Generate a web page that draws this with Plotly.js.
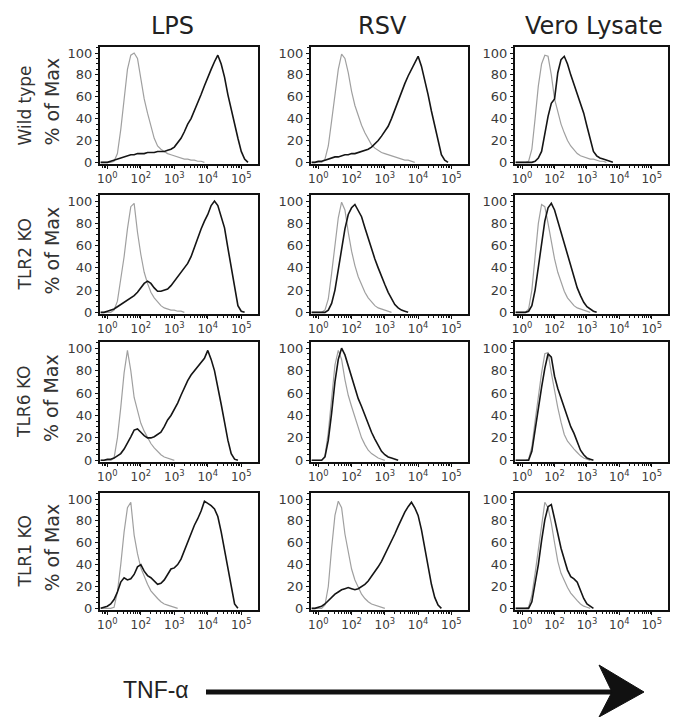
<!DOCTYPE html>
<html><head><meta charset="utf-8">
<script src="https://cdn.plot.ly/plotly-3.0.1.min.js"></script>
<style>html,body{margin:0;padding:0;background:#fff}#chart{width:673px;height:717px}</style>
</head><body><div id="chart"></div>
<script>
// ---- data ----
const BINS = [-0.2,-0.1,0,0.1,0.2,0.3,0.4,0.5,0.6,0.7,0.8,0.9,1,1.1,1.2,1.3,1.4,1.5,1.6,1.7,1.8,1.9,2,2.1,2.2,2.3,2.4,2.5,2.6,2.7,2.8,2.9,3,3.1,3.2,3.3,3.4,3.5,3.6,3.7,3.8,3.9,4,4.1,4.2,4.3,4.4,4.5];
const COLUMNS = ['LPS','RSV','Vero Lysate'];
const ROWS = ['Wild type','TLR2 KO','TLR6 KO','TLR1 KO'];
const Y_LABEL = '% of Max';
const X_LABEL = 'TNF-\u03b1';
const TICK_POS = [0,1,2,3,4];
const TICK_TEXT = ['10<sup>0</sup>','10<sup>2</sup>','10<sup>3</sup>','10<sup>4</sup>','10<sup>5</sup>'];
const Y_TICKS = [0,20,40,60,80,100];

// grey = control, black = stimulated
const wt_lps_ctrl   = [0,0,0,0,1,8,30,60,85,98,100,95,75,58,45,33,22,15,12,10,8,7,6,5,4,3,3,2,2,1,1,0];
const wt_lps_stim   = [0,0,0,1,2,3,4,5,6,7,7,8,8,8,9,9,9,10,10,10,11,12,14,18,22,28,35,40,47,55,62,70,78,85,92,98,90,78,62,48,35,22,10,3,0];
const wt_rsv_ctrl   = [0,0,0,0,3,15,38,62,85,99,95,82,65,52,42,34,27,21,16,13,11,9,8,7,6,5,4,3,2,2,1,0];
const wt_rsv_stim   = [0,0,1,1,2,3,4,5,5,6,7,7,8,8,9,10,11,12,14,17,20,24,28,33,40,48,57,64,72,79,85,92,97,88,76,62,47,33,18,7,2,0];
const wt_vero_ctrl  = [0,0,0,0,1,12,40,70,90,98,97,80,58,45,35,27,20,15,11,8,6,5,4,3,3,2,1,1,0];
const wt_vero_stim  = [0,0,0,0,0,0,1,4,10,27,42,54,58,82,94,97,90,80,71,63,55,45,33,20,10,6,4,3,2,1,0];

const tlr2_lps_ctrl  = [0,0,0,0,2,10,30,50,75,95,98,72,52,36,26,18,13,9,6,4,3,2,2,1,1,0];
const tlr2_lps_stim  = [0,0,1,2,3,5,7,9,11,13,15,18,22,26,28,26,22,19,19,20,21,24,28,32,35,40,44,50,59,67,75,82,88,96,100,96,86,76,58,40,22,6,1,0];
const tlr2_rsv_ctrl  = [0,0,0,0,2,12,35,62,85,99,92,72,55,42,32,25,18,13,9,6,4,3,2,1,0];
const tlr2_rsv_stim  = [0,0,0,0,0,2,8,20,38,58,75,88,94,97,92,86,76,66,57,48,40,32,25,18,12,7,4,2,1,0];
const tlr2_vero_ctrl = [0,0,0,0,3,20,50,80,97,95,80,62,48,36,27,19,13,9,6,4,3,2,1,0];
const tlr2_vero_stim = [0,0,0,0,1,6,20,42,65,82,94,98,92,82,70,60,50,40,30,22,15,9,5,3,1,0];

const tlr6_lps_ctrl  = [0,0,0,0,2,20,47,78,98,80,56,44,33,26,20,15,11,8,5,3,2,1,0];
const tlr6_lps_stim  = [0,0,1,1,2,4,6,10,15,21,27,28,25,22,20,20,21,23,25,30,36,40,45,51,58,65,71,76,80,83,87,91,98,90,80,66,50,34,18,6,1,0];
const tlr6_rsv_ctrl  = [0,0,0,0,4,25,55,85,98,90,72,58,48,38,28,20,14,9,6,4,2,1,0];
const tlr6_rsv_stim  = [0,0,0,0,3,18,42,70,90,100,94,84,74,64,55,48,40,32,25,19,13,8,5,3,2,1,0];
const tlr6_vero_ctrl = [0,0,0,0,1,12,35,58,78,95,96,78,62,47,34,23,17,13,10,7,4,2,1,0];
const tlr6_vero_stim = [0,0,0,0,0,8,28,48,65,82,95,92,75,64,55,47,38,30,24,16,9,5,2,1,0];

const tlr1_lps_ctrl  = [0,0,0,0,1,15,40,70,92,97,67,50,37,29,22,16,12,9,6,4,3,2,1,0];
const tlr1_lps_stim  = [0,1,2,4,8,15,24,28,26,27,31,38,40,34,30,28,25,22,23,26,31,36,37,40,45,53,60,68,76,82,89,98,96,94,91,84,70,53,37,20,4,0];
const tlr1_rsv_ctrl  = [0,0,0,0,3,20,55,85,98,92,68,50,36,26,19,13,9,6,4,3,2,1,0];
const tlr1_rsv_stim  = [0,0,1,2,4,7,10,13,15,17,18,19,18,17,18,20,22,25,29,33,38,43,49,55,61,68,75,82,88,93,97,92,85,72,55,38,22,10,3,0];
const tlr1_vero_ctrl = [0,0,0,0,1,12,32,55,78,97,92,78,60,43,32,25,19,14,10,7,4,2,1,0];
const tlr1_vero_stim = [0,0,0,0,0,6,22,40,62,81,93,95,82,68,55,45,35,29,27,24,16,9,4,2,0];

const PANELS = [
  [[wt_lps_ctrl, wt_lps_stim], [wt_rsv_ctrl, wt_rsv_stim], [wt_vero_ctrl, wt_vero_stim]],
  [[tlr2_lps_ctrl, tlr2_lps_stim], [tlr2_rsv_ctrl, tlr2_rsv_stim], [tlr2_vero_ctrl, tlr2_vero_stim]],
  [[tlr6_lps_ctrl, tlr6_lps_stim], [tlr6_rsv_ctrl, tlr6_rsv_stim], [tlr6_vero_ctrl, tlr6_vero_stim]],
  [[tlr1_lps_ctrl, tlr1_lps_stim], [tlr1_rsv_ctrl, tlr1_rsv_stim], [tlr1_vero_ctrl, tlr1_vero_stim]]
];

// ---- geometry (pixels) ----
const W = 673, H = 717;
const COL_BOX = [[100,258],[311,468],[515,668]];
const ROW_BOX = [[47,164],[195,314],[342,462],[493,610]];
const px = v => v / W;
const py = v => 1 - v / H;

const minorX = [];
[-1,0,1,2,3].forEach(k => [2,3,4,5,6,7,8,9].forEach(m => minorX.push(k + Math.log10(m))));

const traces = [];
const layout = {
  width: W, height: H, margin: {l:0, r:0, t:0, b:0},
  paper_bgcolor: '#fff', plot_bgcolor: '#fff', showlegend: false,
  annotations: [], shapes: []
};
const xTickFont = {family: 'DejaVu Sans', size: 12, color: '#3a3a3a'};
const yTickFont = {family: 'DejaVu Sans', size: 13, color: '#3a3a3a'};

PANELS.forEach((row, r) => {
  row.forEach((pair, c) => {
    const idx = r * 3 + c + 1;
    const sx = idx === 1 ? '' : String(idx);
    const xa = 'x' + sx, ya = 'y' + sx;
    pair.forEach((vals, k) => {
      traces.push({
        x: BINS.slice(0, vals.length), y: vals, xaxis: xa, yaxis: ya,
        type: 'scatter', mode: 'lines', hoverinfo: 'skip',
        line: {color: k === 0 ? '#a0a0a0' : '#151515', width: k === 0 ? 1.2 : 1.6}
      });
    });
    layout['xaxis' + sx] = {
      domain: [px(COL_BOX[c][0]), px(COL_BOX[c][1])], anchor: ya,
      range: [-0.22, 4.5], showgrid: false, zeroline: false,
      showline: true, mirror: true, linecolor: '#111', linewidth: 2,
      ticks: 'outside', ticklen: 3, tickcolor: '#111', tickwidth: 1,
      tickmode: 'array', tickvals: TICK_POS, ticktext: TICK_TEXT, tickfont: xTickFont,
      minor: {tickmode: 'array', tickvals: minorX, ticks: 'outside', ticklen: 2, tickcolor: '#111'}
    };
    layout['yaxis' + sx] = {
      domain: [py(ROW_BOX[r][1]), py(ROW_BOX[r][0])], anchor: xa,
      range: [-1.5, 105.5], showgrid: false, zeroline: false,
      showline: true, mirror: true, linecolor: '#111', linewidth: 2,
      ticks: 'outside', ticklen: 3, tickcolor: '#111', tickwidth: 1,
      tickmode: 'array', tickvals: Y_TICKS, tickfont: yTickFont, ticklabelstandoff: 0,
      minor: {dtick: 5, ticks: 'outside', ticklen: 2, tickcolor: '#111'}
    };
  });
  const cy = (ROW_BOX[r][0] + ROW_BOX[r][1]) / 2;
  layout.annotations.push({text: ROWS[r], xref: 'paper', yref: 'paper', x: px(24), y: py(cy),
    xanchor: 'center', yanchor: 'middle', textangle: -90, showarrow: false,
    font: {family: 'DejaVu Sans', size: 17, color: '#333'}});
  layout.annotations.push({text: Y_LABEL, xref: 'paper', yref: 'paper', x: px(51), y: py(cy - 4),
    xanchor: 'center', yanchor: 'middle', textangle: -90, showarrow: false,
    font: {family: 'DejaVu Sans', size: 19, color: '#333'}});
});

COLUMNS.forEach((t, c) => {
  const centers = [172, 382, 594];
  layout.annotations.push({text: t, xref: 'paper', yref: 'paper', x: px(centers[c]), y: py(26),
    xanchor: 'center', yanchor: 'middle', showarrow: false,
    font: {family: 'DejaVu Sans', size: 24, color: '#222'}});
});

// bottom axis caption + arrow
layout.annotations.push({text: X_LABEL, xref: 'paper', yref: 'paper', x: px(121), y: py(690),
  xanchor: 'left', yanchor: 'middle', showarrow: false,
  font: {family: 'Liberation Sans', size: 23, color: '#222'}});
layout.shapes.push({type: 'line', xref: 'paper', yref: 'paper',
  x0: px(206), y0: py(692), x1: px(615), y1: py(692), line: {color: '#111', width: 5}});
layout.shapes.push({type: 'path', xref: 'paper', yref: 'paper',
  path: `M ${px(599)},${py(665)} L ${px(644)},${py(692)} L ${px(599)},${py(717)} L ${px(612)},${py(692)} Z`,
  fillcolor: '#111', line: {color: '#111', width: 1}});

Plotly.newPlot('chart', traces, layout, {staticPlot: true, displayModeBar: false});
</script>
</body></html>
